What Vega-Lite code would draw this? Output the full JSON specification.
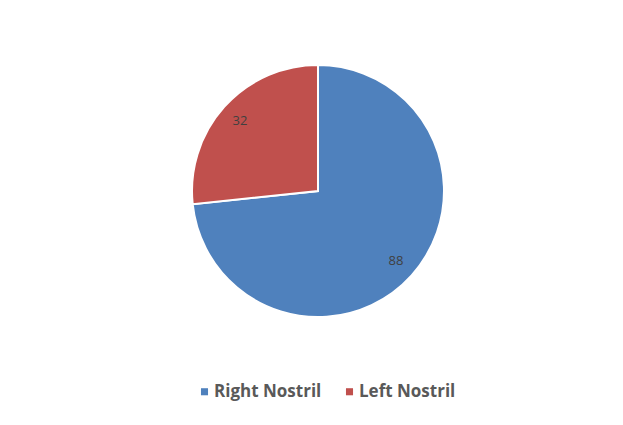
{
  "$schema": "https://vega.github.io/schema/vega-lite/v6.json",
  "width": 623,
  "height": 425,
  "autosize": {"type": "fit", "contains": "padding"},
  "padding": {"left": 13, "top": 9, "right": 0, "bottom": 52},
  "background": "white",
  "config": {"view": {"stroke": null}},
  "data": {
    "values": [
      {"side": "Right Nostril", "count": 88, "order": 1},
      {"side": "Left Nostril", "count": 32, "order": 2}
    ]
  },
  "encoding": {
    "theta": {"field": "count", "type": "quantitative", "stack": true},
    "order": {"field": "order", "type": "quantitative"}
  },
  "layer": [
    {
      "mark": {"type": "arc", "outerRadius": 126, "stroke": "white", "strokeWidth": 2},
      "encoding": {
        "color": {
          "field": "side",
          "type": "nominal",
          "scale": {"domain": ["Right Nostril", "Left Nostril"], "range": ["#4f81bd", "#c0504d"]},
          "legend": {
            "orient": "none",
            "legendX": 183,
            "legendY": 374,
            "title": null,
            "direction": "horizontal",
            "labelFont": "Open Sans",
            "labelFontSize": 17,
            "labelFontWeight": "bold",
            "labelColor": "#595959",
            "symbolType": "square",
            "symbolSize": 50,
            "symbolStrokeWidth": 0,
            "labelOffset": 1,
            "columnPadding": 19
          }
        }
      }
    },
    {
      "mark": {"type": "text", "radius": 105, "fontSize": 13, "font": "Open Sans", "fill": "#404040"},
      "encoding": {"text": {"field": "count", "type": "quantitative"}}
    }
  ]
}
